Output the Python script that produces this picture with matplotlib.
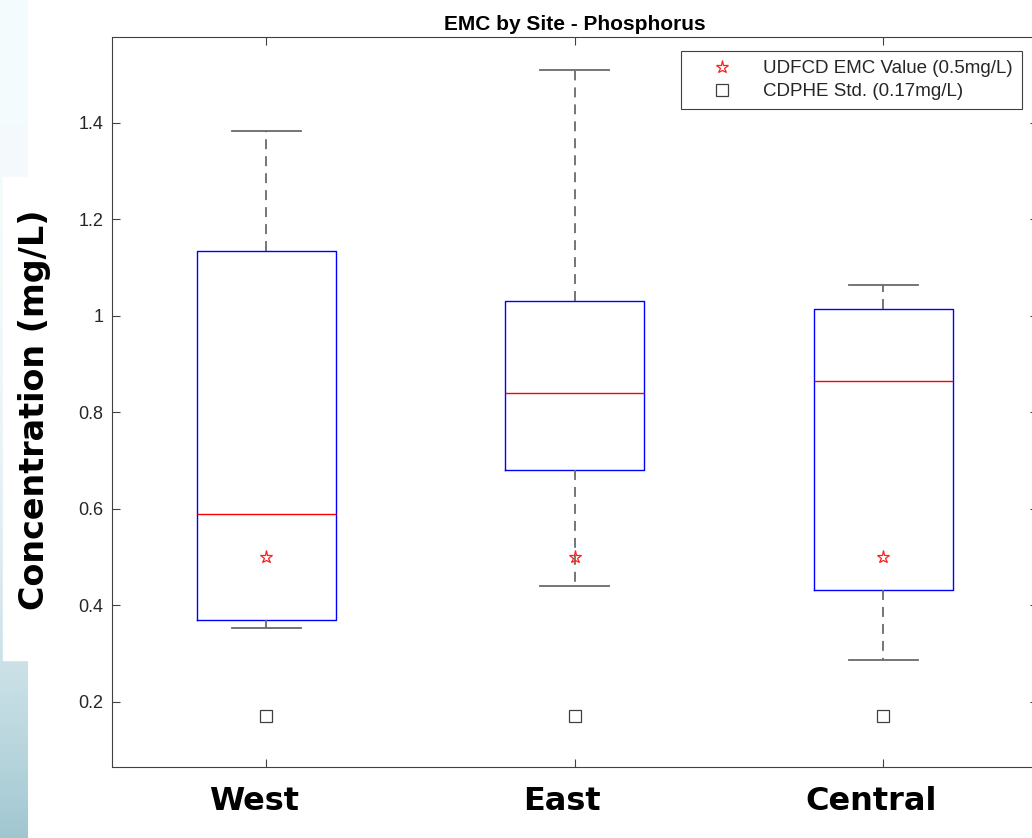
import numpy as np
import matplotlib
matplotlib.use("Agg")
from matplotlib import pyplot as plt
from matplotlib.patches import Rectangle
from matplotlib.ticker import FormatStrFormatter

plt.rcParams['font.family'] = ['Liberation Sans', 'DejaVu Sans']

# box statistics (mg/L)
sites = ["West", "East", "Central"]
whislo = [0.354, 0.441, 0.287]
q1 = [0.370, 0.681, 0.432]
med = [0.589, 0.840, 0.865]
q3 = [1.135, 1.031, 1.014]
whishi = [1.384, 1.510, 1.064]
udfcd_emc = [0.5, 0.5, 0.5]
cdphe_std = [0.17, 0.17, 0.17]
yticks = [0.2, 0.4, 0.6, 0.8, 1.0, 1.2, 1.4]

W, H = 1032, 838
fig = plt.figure(figsize=(W/100, H/100), dpi=100)

# slide background strip on the left
strip = fig.add_axes([0, 0, 28/W, 1])
g = np.linspace(0, 1, 300)[:, None]
top = np.array([0.96, 0.985, 0.99])
bot = np.array([0.63, 0.78, 0.82])
img = top + (bot - top) * (g ** 3)[:, :, None]
strip.imshow(np.repeat(img, 2, axis=1), aspect='auto', extent=(0, 1, 0, 1))
strip.set_axis_off()
fig.patches.append(Rectangle((3/W, 1-660/H), 25/W, (660-177)/H,
                             transform=fig.transFigure, color='white', zorder=1))

ax = fig.add_axes([112/W, 1-767/H, 925.5/W, 730/H])
pos = np.arange(1, len(sites)+1)
stats = []
for i in range(len(sites)):
    stats.append(dict(med=med[i], q1=q1[i], q3=q3[i], whislo=whislo[i],
                      whishi=whishi[i], fliers=[], label=sites[i]))
wc = '#6a6a6a'
ax.bxp(stats, positions=pos, widths=0.45, capwidths=0.224, showfliers=False,
       boxprops=dict(color='#0000ff', lw=1.0),
       medianprops=dict(color='#ff0000', lw=1.0),
       whiskerprops=dict(color=wc, lw=1.3, linestyle=(0, (5.5, 3.9))),
       capprops=dict(color=wc, lw=1.3))

ax.plot(pos, udfcd_emc, ls='none', marker='*', ms=9.5, mfc='none',
        mec='#ff2020', mew=0.9, label='UDFCD EMC Value (0.5mg/L)')
ax.plot(pos, cdphe_std, ls='none', marker='s', ms=8, mfc='none',
        mec='#404040', mew=0.9, label='CDPHE Std. (0.17mg/L)')

ax.set_xlim(0.5, 3.5)
ax.set_ylim(0.065, 1.578)
ax.set_yticks(yticks)
ax.yaxis.set_major_formatter(FormatStrFormatter('%g'))
# tick marks at the sites, labels (sitting a little to the left) on minor ticks
ax.set_xticks(pos)
ax.set_xticklabels([])
ax.set_xticks(pos - 0.04, minor=True)
ax.set_xticklabels(sites, minor=True, fontsize=23, fontweight='bold',
                   family=['DejaVu Sans'], color='black')
ax.tick_params(axis='x', which='minor', length=0, pad=14, top=False)
ax.tick_params(axis='both', which='major', direction='in', length=6,
               width=0.8, color='#404040', top=True, right=True)
ax.tick_params(axis='y', labelsize=13, labelcolor='#262626', pad=6)
for s in ax.spines.values():
    s.set_color('#404040')
    s.set_linewidth(0.8)

ax.set_title('EMC by Site - Phosphorus', fontsize=15, fontweight='bold',
             pad=5)

leg = ax.legend(loc='upper right', bbox_to_anchor=(0.983, 0.981),
                borderaxespad=0, fontsize=13.5, frameon=True, fancybox=False,
                framealpha=1, edgecolor='#404040', borderpad=0.5,
                handlelength=3.4, handletextpad=0.45, labelspacing=0.3)
leg.get_frame().set_linewidth(0.8)
for t in leg.get_texts():
    t.set_color('#262626')

fig.text(35/W, 1-410/H, 'Concentration (mg/L)', rotation=90, ha='center',
         va='center', fontsize=24, fontweight='bold', family=['DejaVu Sans'],
         zorder=5)

fig.savefig('out.png', dpi=100)
